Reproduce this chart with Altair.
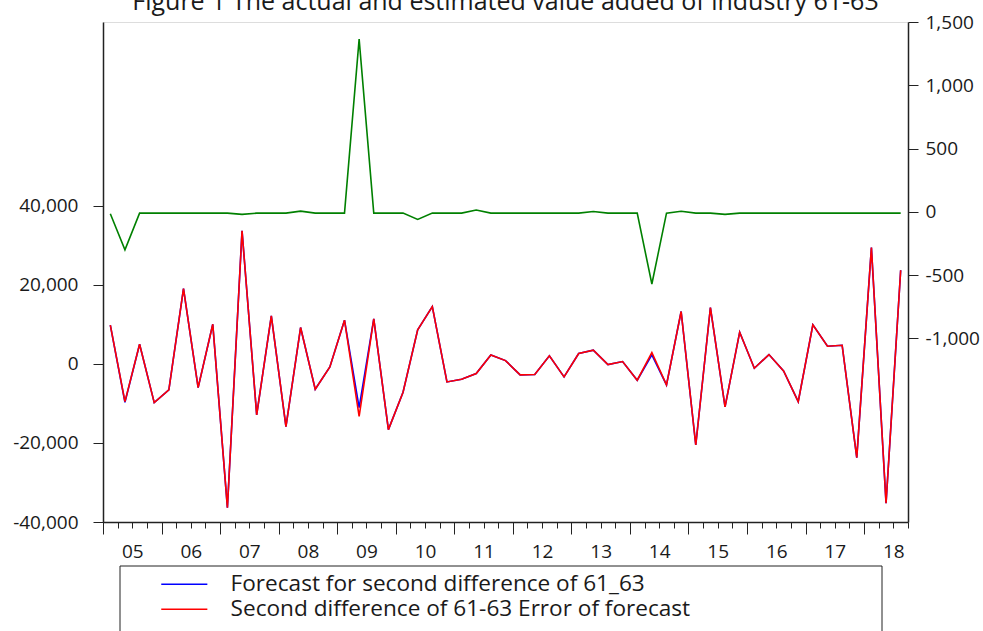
import altair as alt
import pandas as pd

# ---------------- data ----------------
years = ["05", "06", "07", "08", "09", "10", "11", "12", "13", "14", "15", "16", "17", "18"]

actual = [9800, -9540, 4980, -9790, -6580, 19060, -5990, 10040, -36370, 33670,
          -12910, 12150, -15870, 9200, -6410, -760, 11060, -13250, 11390, -16630,
          -7170, 8610, 14510, -4560, -3880, -2450, 2280, 840, -2780, -2700,
          2030, -3290, 2620, 3460, -170, 590, -4130, 2870, -5320, 13250,
          -20510, 14260, -10890, 8020, -1100, 2360, -1770, -9540, 9870, 4470,
          4720, -23710, 29450, -35270, 23710]

forecast = [9800, -9700, 4980, -9790, -6580, 19060, -5990, 10040, -36370, 33670,
            -12910, 12150, -15870, 9200, -6410, -760, 11060, -11060, 11390, -16630,
            -7170, 8610, 14510, -4560, -3880, -2450, 2280, 840, -2780, -2700,
            2030, -3290, 2620, 3460, -170, 590, -4130, 2280, -5320, 13250,
            -20510, 14260, -10890, 8020, -1100, 2360, -1770, -9540, 9870, 4470,
            4720, -23710, 29450, -35270, 23710]

error = [-15, -300, -10, -10, -10, -10, -10, -10, -10, -20,
         -10, -10, -10, 6, -10, -10, -10, 1365, -10, -10,
         -10, -60, -10, -10, -10, 15, -10, -10, -10, -10,
         -10, -10, -10, 3, -10, -10, -10, -570, -10, 5,
         -10, -10, -20, -10, -10, -10, -10, -10, -10, -10,
         -10, -10, -10, -10, -10]

series_names = ["Forecast for second difference of 61_63",
                "Second difference of 61-63 Error of forecast",
                "Error of forecast"]
series_colors = ["#0000ff", "#ff0000", "#008000"]

left_ticks = [-40000, -20000, 0, 20000, 40000]
right_ticks = [-1000, -500, 0, 500, 1000, 1500]

rows = []
for i in range(len(actual)):
    rows.append({"idx": i, "series": series_names[0], "value": forecast[i]})
    rows.append({"idx": i, "series": series_names[1], "value": actual[i]})
    rows.append({"idx": i, "series": series_names[2], "value": error[i]})
df = pd.DataFrame(rows)

n = len(actual)
minor_vals = [k - 0.5 for k in range(n + 1)]
major_vals = [4 * k - 0.5 for k in range(len(years))]
label_vals = [4 * k + 1.5 for k in range(len(years))]
label_expr = "[" + ",".join("'" + y + "'" for y in years) + "][round((datum.value - 1.5) / 4)]"
num_expr = "datum.value < 0 ? '-' + format(-datum.value, ',.0f') : format(datum.value, ',.0f')"
legend_expr = "datum.label == '" + series_names[2] + "' ? '' : datum.label"

FONT = "Open Sans"
AX = "#222222"
TXT = "#1a1a1a"

xscale = alt.Scale(domain=[-0.5, n - 0.5], nice=False, zero=False)

color = alt.Color(
    "series:N",
    scale=alt.Scale(domain=series_names, range=series_colors),
    legend=alt.Legend(
        orient="none", legendX=70, legendY=551, title=None,
        symbolType="M-5,0H5", symbolSize=85, symbolStrokeWidth=1.5,
        labelFont=FONT, labelFontSize=22.6, labelColor=TXT, labelExpr=legend_expr,
        labelOffset=35, labelLimit=900, rowPadding=2, padding=0,
    ),
)

base = alt.Chart(df)

blue = base.transform_filter(alt.datum.series == series_names[0]).mark_line(strokeWidth=1.6).encode(
    x=alt.X("idx:Q", scale=xscale, axis=alt.Axis(
        values=minor_vals, tickSize=6, labels=False, grid=False, title=None, orient="bottom",
        domain=True, domainColor=AX, domainWidth=1.5, tickColor=AX, tickWidth=1)),
    y=alt.Y("value:Q", scale=alt.Scale(domain=[-40000, 86500], nice=False, zero=False), axis=alt.Axis(
        values=left_ticks, labelExpr=num_expr, tickSize=10, labelPadding=15, grid=False, title=None,
        orient="left", domainColor=AX, domainWidth=1.5, tickColor=AX,
        labelFont=FONT, labelFontSize=19, labelColor=TXT)),
    color=color,
)

red = base.transform_filter(alt.datum.series == series_names[1]).mark_line(strokeWidth=1.6).encode(
    x=alt.X("idx:Q", scale=xscale, axis=alt.Axis(
        values=major_vals, tickSize=12, labels=False, grid=False, title=None, orient="bottom",
        domain=False, tickColor=AX, tickWidth=1)),
    y=alt.Y("value:Q", scale=alt.Scale(domain=[-40000, 86500], nice=False, zero=False), axis=None),
    color=color,
)

green = base.transform_filter(alt.datum.series == series_names[2]).mark_line(strokeWidth=1.6).encode(
    x=alt.X("idx:Q", scale=xscale, axis=alt.Axis(
        values=label_vals, ticks=False, labelExpr=label_expr, labelPadding=20, grid=False,
        title=None, orient="bottom", domain=False, labelFont=FONT, labelFontSize=19,
        labelColor=TXT)),
    y=alt.Y("value:Q", scale=alt.Scale(domain=[-2450, 1500], nice=False, zero=False), axis=alt.Axis(
        values=right_ticks, labelExpr=num_expr, tickSize=10, labelPadding=7, grid=False, title=None,
        orient="right", domainColor=AX, domainWidth=1.5, tickColor=AX,
        labelFont=FONT, labelFontSize=19, labelColor=TXT)),
    color=color,
)

frame = alt.Chart(pd.DataFrame({"k": [0]})).mark_rect(
    fillOpacity=0, stroke=AX, strokeWidth=1
).encode(x=alt.value(17), x2=alt.value(779), y=alt.value(544), y2=alt.value(650))

chart = alt.layer(blue, red, green, frame).resolve_scale(
    y="independent", x="shared"
).resolve_axis(
    x="independent", y="independent"
).properties(
    width=805, height=500,
    title=alt.TitleParams(
        text="Figure 1 The actual and estimated value added of industry 61-63",
        font=FONT, fontSize=25, fontWeight="normal", color=TXT,
        anchor="middle", baseline="alphabetic", offset=0, dy=22,
    ),
    autosize=alt.AutoSizeParams(type="none"),
    padding={"left": 103, "top": 22, "right": 75, "bottom": 109},
).configure_view(
    stroke=AX, strokeWidth=1.5
).configure(background="white")

chart.save("out.html", embed_options={"renderer": "svg", "actions": False})
